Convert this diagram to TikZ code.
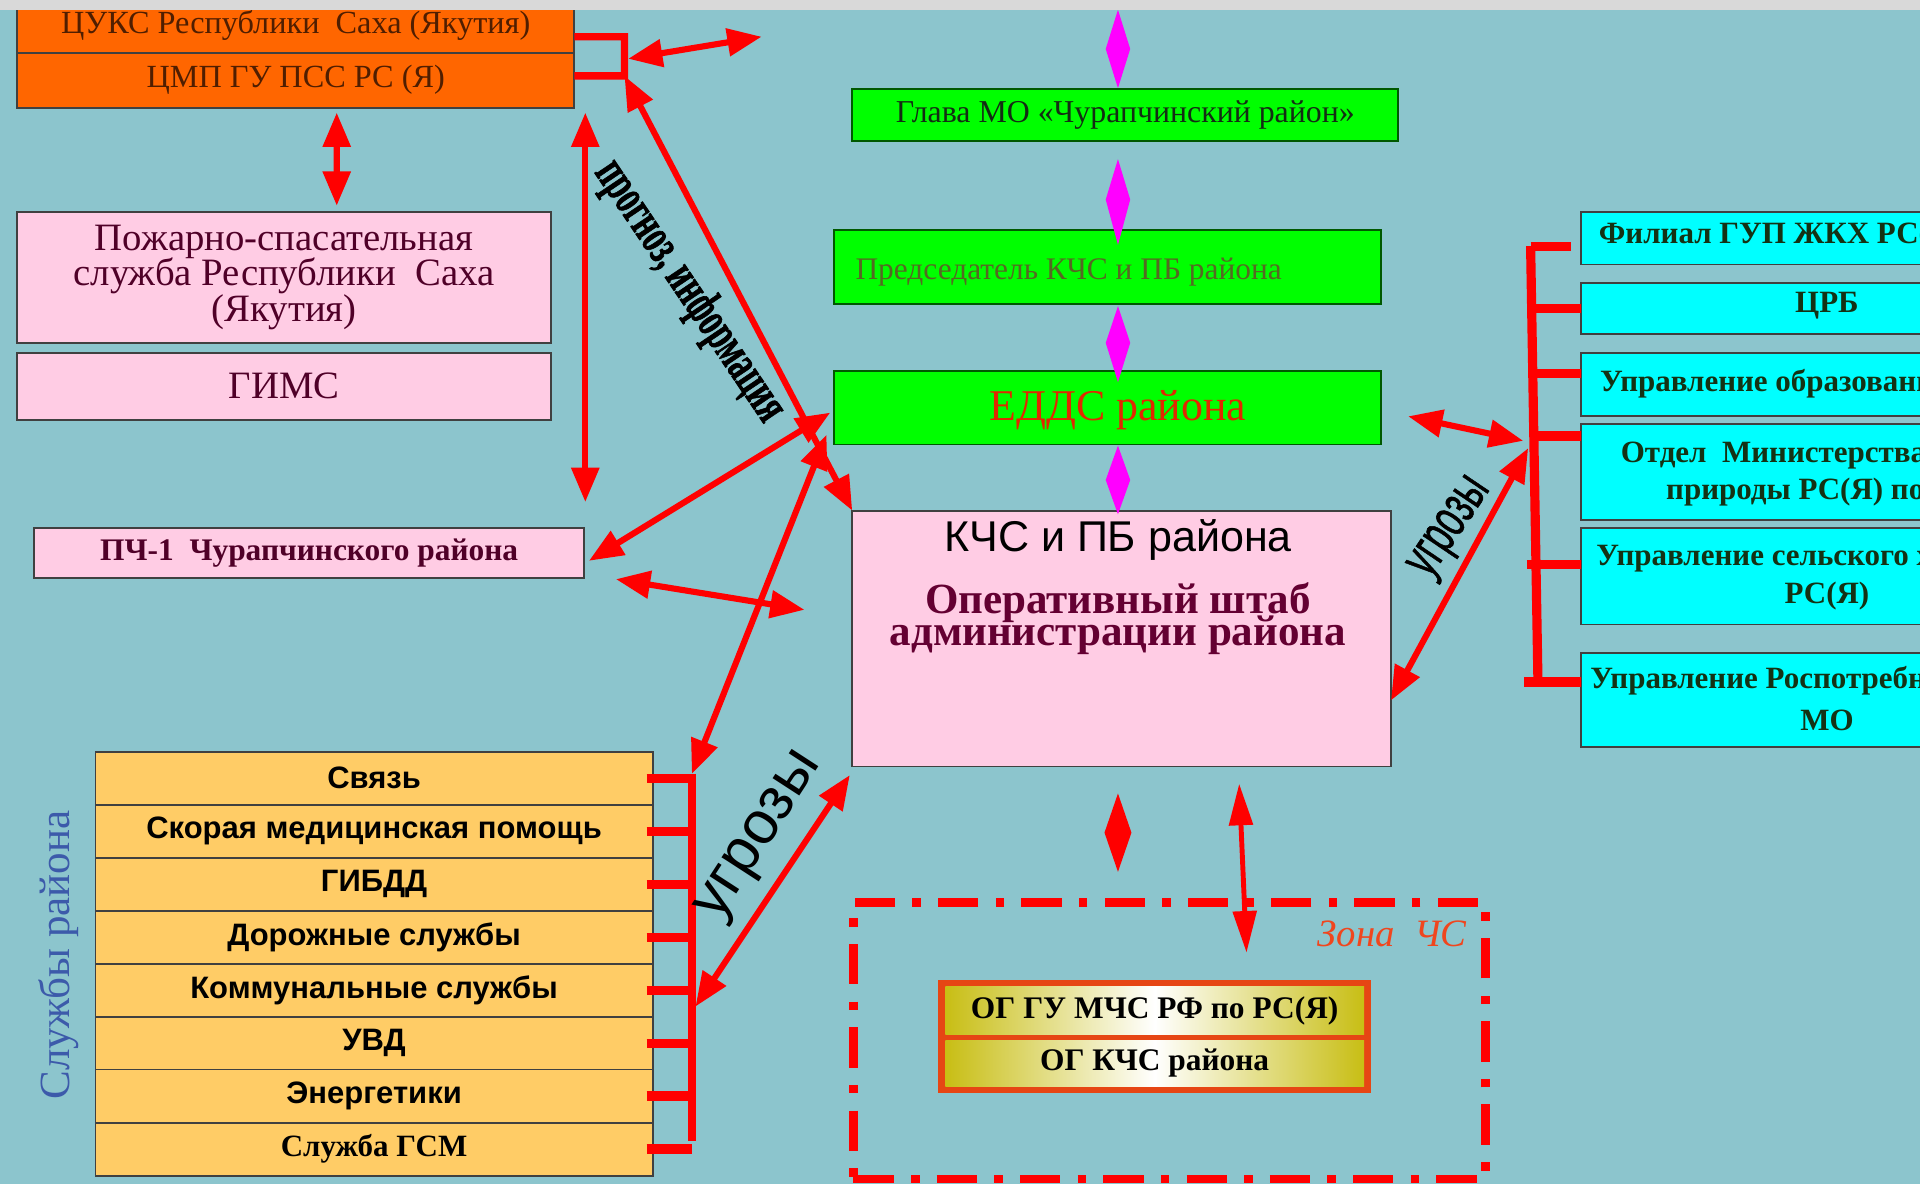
\documentclass[tikz,border=0pt]{standalone}
\usepackage{fontspec}
\setmainfont{Liberation Serif}
\newfontfamily\sansf{Liberation Sans}
\newfontfamily\heavyserif[FakeBold=1.6]{Liberation Serif}
\newfontfamily\heavysans[FakeBold=1.2]{Liberation Sans}
\usetikzlibrary{arrows.meta,calc}
\definecolor{bgc}{RGB}{140,197,205}
\definecolor{stripc}{RGB}{217,217,217}
\definecolor{orF}{RGB}{255,102,0}
\definecolor{pkF}{RGB}{255,204,228}
\definecolor{gnF}{RGB}{0,255,0}
\definecolor{cyF}{RGB}{0,255,255}
\definecolor{svF}{RGB}{255,204,102}
\definecolor{redc}{RGB}{255,0,0}
\definecolor{magc}{RGB}{255,0,255}
\definecolor{brownT}{RGB}{80,30,0}
\definecolor{maroonT}{RGB}{80,0,40}
\definecolor{glavaT}{RGB}{20,45,20}
\definecolor{predT}{RGB}{85,105,35}
\definecolor{eddsT}{RGB}{225,40,0}
\definecolor{opT}{RGB}{100,0,50}
\definecolor{cyT}{RGB}{20,50,20}
\definecolor{zoneT}{RGB}{240,70,30}
\definecolor{slT}{RGB}{60,90,170}
\definecolor{ogB}{RGB}{230,70,20}
\definecolor{ogY}{RGB}{200,190,20}
\newcommand\fsz[2]{\fontsize{#1pt}{#2pt}\selectfont\lineskiplimit=-20pt\relax}
\begin{document}
\begin{tikzpicture}[x=0.1mm,y=-0.1mm,
  box/.style={draw=black!75, line width=0.45pt, inner sep=0pt, outer sep=0pt, align=center},
  obox/.style={box, fill=orF, text=brownT, font=\fsz{7.5}{8}},
  pbox/.style={box, fill=pkF, text=maroonT},
  gbox/.style={box, draw=green!35!black, fill=gnF},
  cbox/.style={box, fill=cyF, minimum width=40.2mm},
  ctext/.style={inner sep=0pt, text=cyT, font=\bfseries\fsz{7.2}{8}},
  sbox/.style={box, fill=svF, minimum width=45.5mm, minimum height=4.33mm, font=\sansf\bfseries\fsz{7.2}{8}},
  ogcell/.style={inner sep=0pt, outer sep=0pt, left color=ogY, right color=ogY, middle color=white, font=\bfseries\fsz{7.3}{8}},
  dbl/.style={draw=redc, line width=0.5mm, {Triangle[length=2.8mm,width=2.2mm]}-{Triangle[length=2.8mm,width=2.2mm]}},
  thindbl/.style={draw=redc, line width=0.4mm, {Triangle[length=3.4mm,width=1.9mm]}-{Triangle[length=3.4mm,width=1.9mm]}},
  brk/.style={draw=redc, line width=0.6mm},
  tick/.style={draw=redc, line width=0.75mm},
  zonestyle/.style={draw=redc, line width=0.7mm, dash pattern=on 3.3mm off 1.4mm on 0.7mm off 1.4mm}
]
\useasboundingbox (0,0) rectangle (1568,967);
\fill[bgc] (0,0) rectangle (1568,967);

% ---------- left top orange boxes
\node[obox, minimum width=45.5mm, minimum height=4.5mm] (cuks) at (241.5,20.5) {ЦУКС Республики\ \ Саха (Якутия)};
\node[obox, minimum width=45.5mm, minimum height=4.5mm] (cmp) at (241.5,65.5) {ЦМП ГУ ПСС РС (Я)};

% ---------- pink boxes
\node[pbox, minimum width=43.6mm, minimum height=10.7mm, font=\fsz{9}{8.3}] (pss) at (232,226.5) {Пожарно-спасательная\\служба Республики\ \ Саха\\(Якутия)};
\node[pbox, minimum width=43.6mm, minimum height=5.5mm, font=\fsz{9}{9}] (gims) at (232,315.5) {ГИМС};
\node[pbox, minimum width=44.9mm, minimum height=4.1mm, font=\bfseries\fsz{7.3}{8}] (pch) at (252.5,451.5) {ПЧ-1\ \ Чурапчинского района};

% ---------- green column
\node[gbox, minimum width=44.6mm, minimum height=4.2mm, text=glavaT, font=\fsz{7.4}{8}] (glava) at (919,94) {Глава МО «Чурапчинский район»};
\node[gbox, minimum width=44.7mm, minimum height=6mm] (pred) at (904.5,218) {};
\node[anchor=west, inner sep=0pt, text=predT, font=\fsz{7.3}{8}] (predt) at (698,222) {Председатель КЧС и ПБ района};
\node[gbox, minimum width=44.7mm, minimum height=6mm] (edds) at (904.5,333) {};
\node[inner sep=0pt, text=eddsT, font=\fsz{10.2}{11}] (eddst) at (913,335) {ЕДДС района};

% ---------- central box
\node[pbox, minimum width=44mm, minimum height=20.9mm] (kchs) at (916,521.5) {};
\node[inner sep=0pt, font=\sansf\fsz{10}{11}] (kchst) at (913,441) {КЧС и ПБ района};
\node[inner sep=0pt, text=opT, align=center, font=\bfseries\fsz{10}{7.4}] (kchss) at (913,505) {Оперативный штаб\\администрации района};

% ---------- right cyan boxes
\node[cbox, minimum height=4.3mm] (c1) at (1492,194.5) {};
\node[cbox, minimum height=4.2mm] (c2) at (1492,252) {};
\node[cbox, minimum height=5.2mm] (c3) at (1492,314) {};
\node[cbox, minimum height=7.9mm] (c4) at (1492,385.5) {};
\node[cbox, minimum height=7.9mm] (c5) at (1492,470.5) {};
\node[cbox, minimum height=7.7mm] (c6) at (1492,571.5) {};
\node[ctext, anchor=west] (c1t) at (1305,193) {Филиал ГУП ЖКХ РС(Я)};
\node[ctext] (c2t) at (1492,250) {ЦРБ};
\node[ctext, anchor=west] (c3t) at (1306,313) {Управление образования};
\node[ctext, anchor=west] (c4t) at (1323,372) {Отдел\ \ Министерства охраны};
\node[ctext, anchor=west] (c4u) at (1360,402) {природы РС(Я) по улусу};
\node[ctext, anchor=west] (c5t) at (1303,456) {Управление сельского хозяйства};
\node[ctext] (c5u) at (1492,487) {РС(Я)};
\node[ctext, anchor=west] (c6t) at (1298,556) {Управление Роспотребнадзора};
\node[ctext] (c6u) at (1492,588) {МО};

% ---------- services
\node[sbox] (s1) at (305.5,635.6) {Связь};
\node[sbox] (s2) at (305.5,678.9) {Скорая медицинская помощь};
\node[sbox] (s3) at (305.5,722.1) {ГИБДД};
\node[sbox] (s4) at (305.5,765.4) {Дорожные службы};
\node[sbox] (s5) at (305.5,808.6) {Коммунальные службы};
\node[sbox] (s6) at (305.5,851.9) {УВД};
\node[sbox] (s7) at (305.5,895.1) {Энергетики};
\node[sbox, font=\bfseries\fsz{7.2}{8}] (s8) at (305.5,938.4) {Служба ГСМ};
\node[rotate=90, inner sep=0pt, text=slT, font=\fsz{10}{10}] (slt) at (48,780) {Службы района};

% ---------- zone
\node[zonestyle, minimum width=51.6mm, minimum height=22.6mm, inner sep=0pt] (zone) at (955,850) {};
\node[inner sep=0pt, text=zoneT, font=\itshape\fsz{9}{9}] (zonet) at (1137,763) {Зона\ \ ЧС};
\node[fill=ogB, minimum width=35.4mm, minimum height=9.3mm, inner sep=0pt] (og) at (943,846.5) {};
\node[ogcell, minimum width=34.2mm, minimum height=3.9mm] (og1) at (943,825.5) {ОГ ГУ МЧС РФ по РС(Я)};
\node[ogcell, minimum width=34.2mm, minimum height=3.7mm] (og2) at (943,868.5) {ОГ КЧС района};

% ---------- coordinates
\coordinate (ob1) at (510,30);
\coordinate (ob2) at (510,62);
\coordinate (ob3) at (513,48);
\coordinate (topr) at (622,30);
\coordinate (v1) at (478,92);
\coordinate (v2) at (478,410);
\coordinate (a7l) at (503,473);
\coordinate (a7r) at (657,498);
\coordinate (sbtop) at (565,632);
\coordinate (sbbot) at (565,932);
\coordinate (sbmid) at (568,822);
\coordinate (zarr) at (1018,778);
\coordinate (rb1) at (1250,201);
\coordinate (rb2) at (1256,557);
\coordinate (rj) at (1244,360);
\coordinate (rj2) at (1248,366);

% ---------- brackets
\draw[brk] ([yshift=-0.95mm]cuks.east) -- (ob1) -- (ob2) -- ([yshift=0.35mm]cmp.east);
\draw[brk] (sbtop) -- (sbbot);
\foreach \s in {s1,s2,s3,s4,s5,s6,s7,s8}
  \draw[tick] ([xshift=-0.5mm]\s.east) -- (\s.east -| sbtop);
\draw[tick] (rb1) -- (rb2);
\draw[tick] (rb1) -- (1283,201);
\draw[tick] (1251,252) -- (c2.west |- 1251,252);
\draw[tick] (1251,305) -- (c3.west |- 1251,305);
\draw[tick] (1252,356) -- (c4.west |- 1252,356);
\draw[tick] (1247,461) -- (c5.west |- 1247,461);
\draw[tick] (1245,557) -- (c6.west |- 1245,557);

% ---------- magenta connectors
\fill[magc] (913,8) -- (923,40) -- (913,72) -- (903,40) -- cycle;
\fill[magc] (913,130) -- (923,163) -- (913,200) -- (903,163) -- cycle;
\fill[magc] (913,250) -- (923,280) -- (913,312) -- (903,280) -- cycle;
\fill[magc] (913,364) -- (923,392) -- (913,420) -- (903,392) -- cycle;
\fill[redc] (913,648) -- (924,680) -- (913,712) -- (902,680) -- cycle;

% ---------- red arrows
\draw[dbl] (ob3) -- (topr);
\draw[dbl] (ob2) -- (kchs.north west);
\draw[dbl] (v1) -- (v2);
\draw[dbl] ([xshift=3.35mm,yshift=-0.4mm]cmp.south) -- ([xshift=4.3mm,yshift=0.5mm]pss.north);
\draw[dbl] ([xshift=-0.3mm,yshift=-0.4mm]edds.west) -- ([xshift=0.4mm,yshift=-0.65mm]pch.east);
\draw[dbl] (sbtop) -- ([xshift=-0.6mm,yshift=0.8mm]edds.south west);
\draw[dbl] (a7l) -- (a7r);
\draw[dbl] (sbmid) -- ([xshift=-0.2mm,yshift=-0.7mm]kchs.south west);
\draw[thindbl] ([xshift=9.6mm,yshift=-1.4mm]kchs.south) -- (zarr);
\draw[dbl] ([xshift=2.2mm,yshift=-0.7mm]edds.east) -- (rj);
\draw[dbl] (rj2) -- ([yshift=-5.05mm]kchs.east);

% ---------- rotated labels
\node[rotate=-56, inner sep=0pt, font=\heavyserif\bfseries\fsz{12}{12}] (prog) at (563,238) {\scalebox{0.6}[1]{прогноз, информация}};
\node[rotate=57, inner sep=0pt, font=\sansf\fsz{14}{14}] (ugr1) at (622,684) {угрозы};
\node[rotate=56, inner sep=0pt, font=\heavysans\fsz{13}{13}] (ugr2) at (1186,432) {\scalebox{0.62}[1]{угрозы}};

% ---------- top strip
\fill[stripc] (0,0) rectangle (1568,8);
\end{tikzpicture}
\end{document}
